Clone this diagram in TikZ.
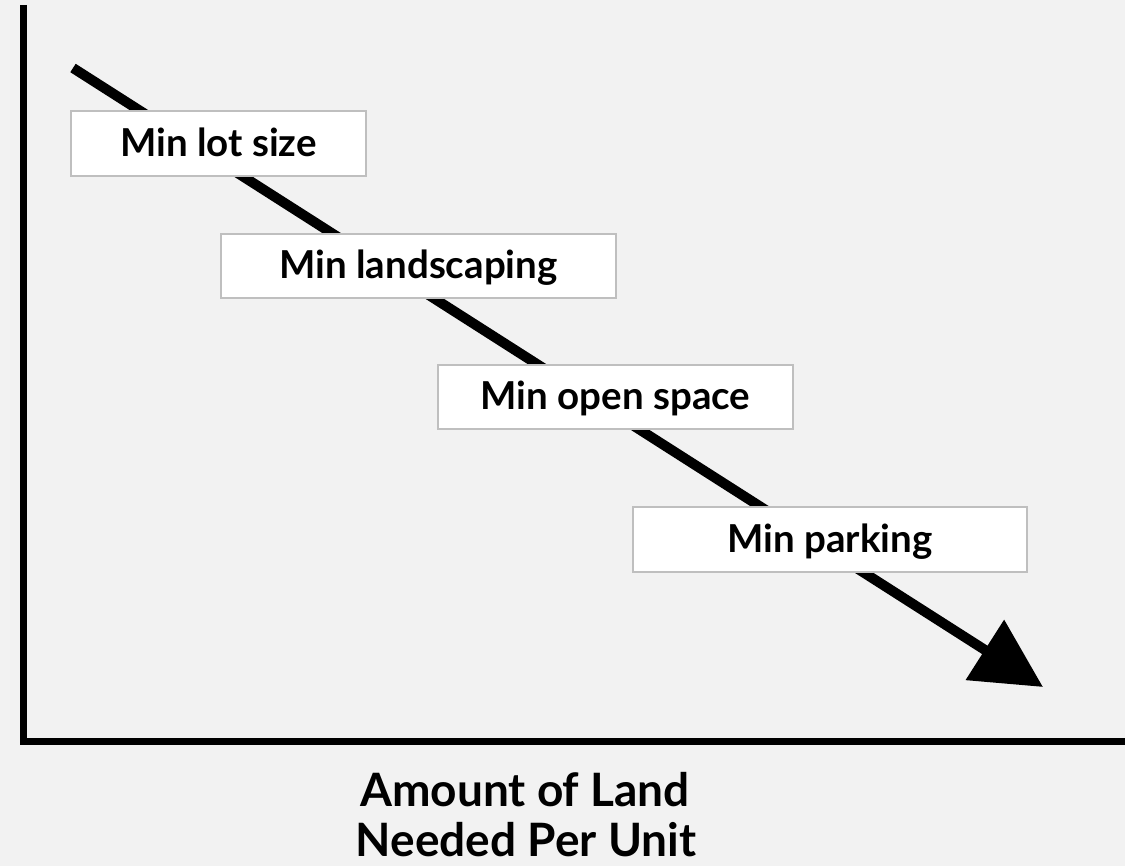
\documentclass[tikz,border=0pt]{standalone}
\usepackage{fontspec}
\setmainfont{Lato}
\usetikzlibrary{arrows.meta}
\definecolor{bg}{HTML}{F2F2F2}
\definecolor{boxline}{HTML}{BFBFBF}
\tikzset{
  lbox/.style={draw=boxline, line width=1.5pt, fill=white, inner sep=0pt,
    font=\fontsize{38.5}{38.5}\selectfont\bfseries, text height=26pt, text depth=0pt},
  axis/.style={line width=7pt, black},
  trend/.style={line width=10pt, black, -{Triangle[length=69pt, width=69pt]}},
  axlabel/.style={font=\fontsize{46}{46}\selectfont\bfseries, inner sep=0pt, text height=33pt, text depth=0pt, anchor=base}
}
\begin{document}
\begin{tikzpicture}[x=1pt, y=-1pt]
\useasboundingbox (0,0) rectangle (1125,866);
\fill[bg] (0,0) rectangle (1125,866);
\coordinate (ytop) at (23.5,5);
\coordinate (origin) at (23.5,741.5);
\coordinate (xend) at (1126,741.5);
\draw[axis] (ytop) -- (origin) -- (xend);
\coordinate (start) at (73,68);
\coordinate (tip) at (1043,687);
\draw[trend] (start) -- (tip);
\node[lbox, minimum width=295pt, minimum height=65pt] (b1) at (218.5,143.5) {Min lot size};
\node[lbox, minimum width=395pt, minimum height=64pt] (b2) at (418.5,266) {Min landscaping};
\node[lbox, minimum width=355pt, minimum height=64pt] (b3) at (615.5,397) {Min open space};
\node[lbox, minimum width=394pt, minimum height=65pt] (b4) at (830,539.5) {Min parking};
\node[axlabel] (xl1) at (525,806) {Amount of Land};
\node[axlabel] (xl2) at (526,856) {Needed Per Unit};
\end{tikzpicture}
\end{document}
